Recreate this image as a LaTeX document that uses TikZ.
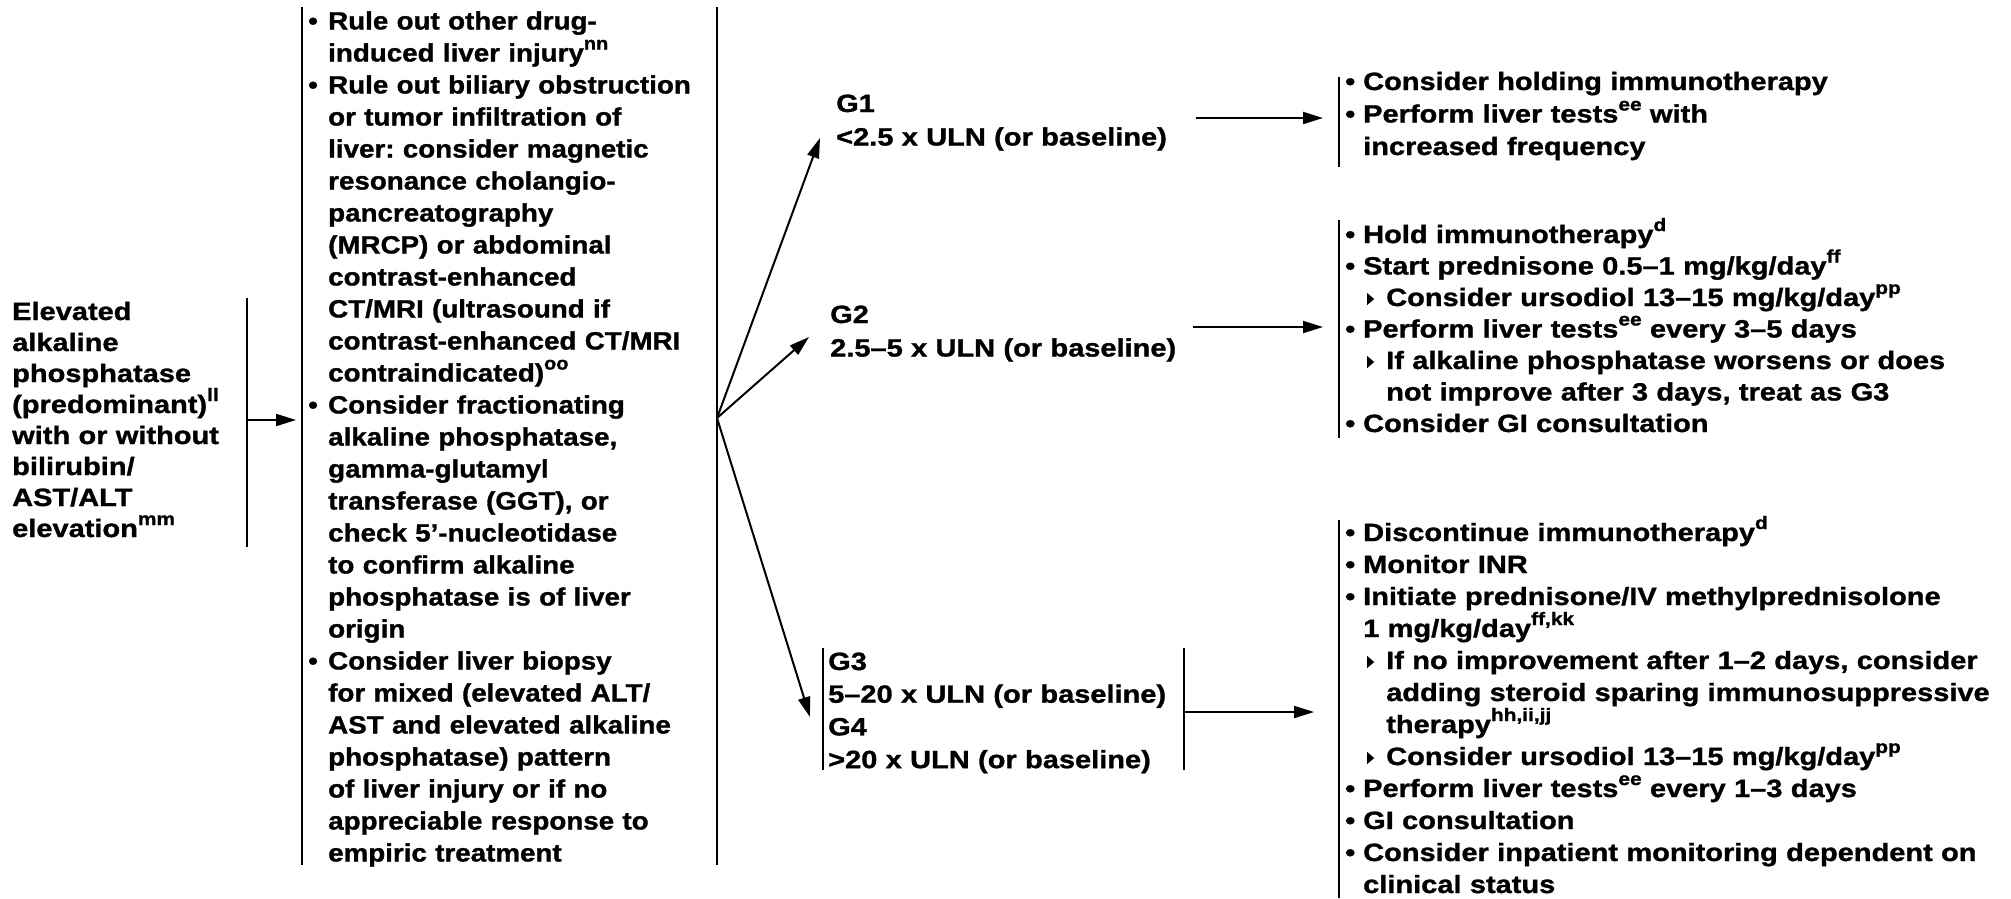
\documentclass[tikz,border=0pt]{standalone}
\usepackage{fontspec}
\setmainfont{Liberation Sans}
% two widths of the same bold face
\newfontfamily\wfont{Liberation Sans Bold}[FakeStretch=1.16,FakeBold=1.2]
\newfontfamily\mfont{Liberation Sans Bold}[FakeStretch=1.11,FakeBold=1.2]
\usetikzlibrary{arrows.meta}
\frenchspacing
\hyphenpenalty=10000

% footnote letters, bullets, sub-bullet triangles and hanging indents
\newcommand\fn[1]{\raisebox{0.48em}{\fontsize{18}{18}\selectfont #1}}
\newcommand\bu[1][18pt]{\makebox[#1][l]{•}}
\newcommand\ind[1]{\hspace*{#1}}
\newcommand\tri{\makebox[19pt][l]{\tikz[baseline=0pt]\fill (0pt,1pt) -- (0pt,13pt) -- (7pt,7pt) -- cycle;}}

\begin{document}
\begin{tikzpicture}[x=1pt,y=-1pt,
  bar/.style={line width=2pt},
  arr/.style={line width=2pt,-{Triangle[length=20pt,width=12pt]}},
  txt/.style={anchor=base west,inner sep=0pt,align=left}]

\useasboundingbox (0,0) rectangle (2011,898);

% ---------- presenting finding ----------
\node[txt,text width=230pt,font={\wfont\fontsize{25}{31}\selectfont}] (elev) at (12,320) {%
Elevated\\
alkaline\\
phosphatase\\
(predominant)\fn{ll}\\
with or without\\
bilirubin/\\
AST/ALT\\
elevation\fn{mm}};

% ---------- work-up ----------
\node[txt,text width=400pt,font={\mfont\fontsize{25}{32}\selectfont}] (work) at (308,29.5) {%
\bu[20pt]Rule out other drug-\\
\ind{20pt}induced liver injury\fn{nn}\\
\bu[20pt]Rule out biliary obstruction\\
\ind{20pt}or tumor infiltration of\\
\ind{20pt}liver: consider magnetic\\
\ind{20pt}resonance cholangio-\\
\ind{20pt}pancreatography\\
\ind{20pt}(MRCP) or abdominal\\
\ind{20pt}contrast-enhanced\\
\ind{20pt}CT/MRI (ultrasound if\\
\ind{20pt}contrast-enhanced CT/MRI\\
\ind{20pt}contraindicated)\fn{oo}\\
\bu[20pt]Consider fractionating\\
\ind{20pt}alkaline phosphatase,\\
\ind{20pt}gamma-glutamyl\\
\ind{20pt}transferase (GGT), or\\
\ind{20pt}check 5’-nucleotidase\\
\ind{20pt}to confirm alkaline\\
\ind{20pt}phosphatase is of liver\\
\ind{20pt}origin\\
\bu[20pt]Consider liver biopsy\\
\ind{20pt}for mixed (elevated ALT/\\
\ind{20pt}AST and elevated alkaline\\
\ind{20pt}phosphatase) pattern\\
\ind{20pt}of liver injury or if no\\
\ind{20pt}appreciable response to\\
\ind{20pt}empiric treatment};

% ---------- grades ----------
\node[txt,text width=420pt,font={\wfont\fontsize{25}{33.5}\selectfont}] (g1) at (836,112) {%
G1\\
<2.5 x ULN (or baseline)};

\node[txt,text width=420pt,font={\wfont\fontsize{25}{33.5}\selectfont}] (g2) at (830,323) {%
G2\\
2.5–5 x ULN (or baseline)};

\node[txt,text width=420pt,font={\wfont\fontsize{25}{32.7}\selectfont}] (g34) at (828,670) {%
G3\\
5–20 x ULN (or baseline)\\
G4\\
>20 x ULN (or baseline)};

% ---------- management ----------
\node[txt,text width=660pt,font={\wfont\fontsize{25}{32.5}\selectfont}] (r1) at (1345,90) {%
\bu Consider holding immunotherapy\\
\bu Perform liver tests\fn{ee} with\\
\ind{18pt}increased frequency};

\node[txt,text width=660pt,font={\wfont\fontsize{25}{31.5}\selectfont}] (r2) at (1345,243) {%
\bu Hold immunotherapy\fn{d}\\
\bu Start prednisone 0.5–1 mg/kg/day\fn{ff}\\
\ind{22pt}\tri Consider ursodiol 13–15 mg/kg/day\fn{pp}\\
\bu Perform liver tests\fn{ee} every 3–5 days\\
\ind{22pt}\tri If alkaline phosphatase worsens or does\\
\ind{41pt}not improve after 3 days, treat as G3\\
\bu Consider GI consultation};

\node[txt,text width=660pt,font={\wfont\fontsize{25}{32}\selectfont}] (r3) at (1345,541) {%
\bu Discontinue immunotherapy\fn{d}\\
\bu Monitor INR\\
\bu Initiate prednisone/IV methylprednisolone\\
\ind{18pt}1 mg/kg/day\fn{ff,kk}\\
\ind{22pt}\tri If no improvement after 1–2 days, consider\\
\ind{41pt}adding steroid sparing immunosuppressive\\
\ind{41pt}therapy\fn{hh,ii,jj}\\
\ind{22pt}\tri Consider ursodiol 13–15 mg/kg/day\fn{pp}\\
\bu Perform liver tests\fn{ee} every 1–3 days\\
\bu GI consultation\\
\bu Consider inpatient monitoring dependent on\\
\ind{18pt}clinical status};

% ---------- bracket bars ----------
\coordinate (elevT) at (247,298);  \coordinate (elevB) at (247,547);
\coordinate (workLT) at (302,7);   \coordinate (workLB) at (302,865);
\coordinate (workRT) at (717,7);   \coordinate (workRB) at (717,865);
\coordinate (gLT) at (823,648);    \coordinate (gLB) at (823,770);
\coordinate (gRT) at (1184,648);   \coordinate (gRB) at (1184,770);
\coordinate (r1T) at (1339,77);    \coordinate (r1B) at (1339,167);
\coordinate (r2T) at (1339,220);   \coordinate (r2B) at (1339,438);
\coordinate (r3T) at (1339,520);   \coordinate (r3B) at (1339,898);

\foreach \a/\b in {elevT/elevB,workLT/workLB,workRT/workRB,gLT/gLB,gRT/gRB,r1T/r1B,r2T/r2B,r3T/r3B}
  \draw[bar] (\a) -- (\b);

% ---------- connectors ----------
\coordinate (elevOut) at (247,420);
\coordinate (workIn) at (296,420);
\coordinate (fan) at (717,418);
\coordinate (g1In) at (820,138);
\coordinate (g2In) at (809,337);
\coordinate (g34In) at (810,717);
\coordinate (g1Out) at (1196,118);  \coordinate (r1In) at (1323,118);
\coordinate (g2Out) at (1193,327);  \coordinate (r2In) at (1323,327);
\coordinate (g34Out) at (1184,712); \coordinate (r3In) at (1314,712);

\draw[arr] (elevOut) -- (workIn);
\draw[arr] (fan) -- (g1In);
\draw[arr] (fan) -- (g2In);
\draw[arr] (fan) -- (g34In);
\draw[arr] (g1Out) -- (r1In);
\draw[arr] (g2Out) -- (r2In);
\draw[arr] (g34Out) -- (r3In);

\end{tikzpicture}
\end{document}
